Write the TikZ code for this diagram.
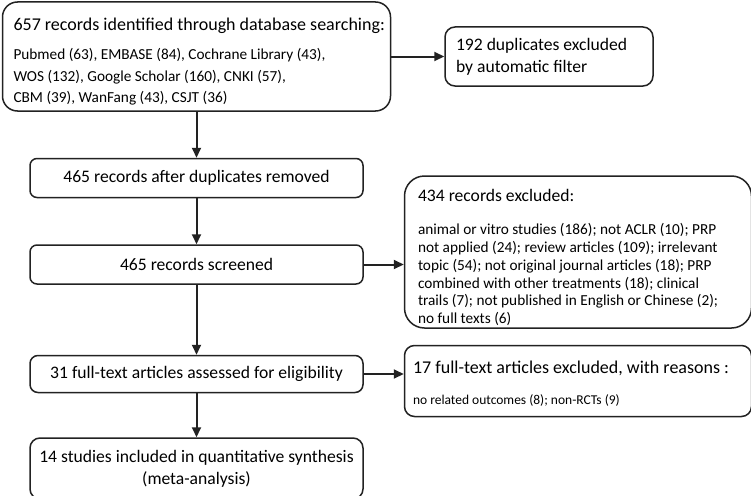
\documentclass[tikz,border=0pt]{standalone}
\usepackage{fontspec}
\setmainfont{Carlito}
\usepackage{xcolor}
\usetikzlibrary{arrows.meta,positioning}
\definecolor{ink}{HTML}{222222}
\newcommand{\bigtxt}{\fontsize{17.6}{22}\selectfont}
\newcommand{\headtxt}{\fontsize{18}{22}\selectfont}
\newcommand{\smalltxt}{\fontsize{15.3}{21.5}\selectfont}
\newcommand{\reasontxt}{\fontsize{15.3}{17.8}\selectfont}
\newcommand{\tinytxt}{\fontsize{13.5}{16}\selectfont}

\begin{document}
\begin{tikzpicture}[
    node distance=46pt and 40pt,
    box/.style={rounded corners=7pt, draw=ink, line width=1.5pt, fill=white,
                minimum width=333pt, minimum height=39pt, align=center,
                inner sep=0pt, font=\bigtxt},
    side/.style={box, rounded corners=11pt, minimum width=347pt, align=flush left},
    line/.style={-{Triangle[length=10pt,width=9pt]}, line width=2pt, draw=ink}
  ]
  \useasboundingbox (0,0) rectangle (751pt,-495pt);

  %%%%%%%%%%%%% Identification %%%%%%%%%%%%%
  \node[box, rounded corners=15pt, minimum width=388pt, minimum height=109pt,
        text width=366pt, align=flush left] (search) at (196.5pt,-56.5pt)
    {\rule{0pt}{23pt}\mbox{\headtxt 657 records identified through database searching:}\\[7.5pt]
     \smalltxt Pubmed (63), EMBASE (84), Cochrane Library (43),\\
     WOS (132), Google Scholar (160), CNKI (57),\\
     CBM (39), WanFang (43), CSJT (36)\par};
  \node[box, rounded corners=10pt, minimum width=208pt, minimum height=59pt,
        text width=186pt, align=flush left, right=53pt of search] (dup)
    {192 duplicates excluded\\by automatic filter\par};

  %%%%%%%%%%%%% Screening %%%%%%%%%%%%%
  \node[box, below=of search] (removed) {465 records after duplicates removed};
  \node[box, below=of removed] (screened) {465 records screened};
  \node[side, rounded corners=20pt, minimum height=152pt, text width=320pt,
        right=of screened, yshift=12.5pt] (excl)
    {\rule{0pt}{23.5pt}434 records excluded:\\[15.2pt]
     \reasontxt animal or vitro studies (186); not ACLR (10); PRP\\
     not applied (24); review articles (109); irrelevant\\
     topic (54); not original journal articles (18); PRP\\
     combined with other treatments (18); clinical\\
     trails (7); not published in English or Chinese (2);\\
     no full texts (6)\par};

  %%%%%%%%%%%%% Eligibility & inclusion %%%%%%%%%%%%%
  \node[box, rounded corners=8pt, minimum height=37pt, below=70pt of screened] (full)
    {31 full-text articles assessed for eligibility};
  \node[side, rounded corners=10pt, minimum height=71pt, text width=330pt,
        right=of full, yshift=-7pt] (fexcl)
    {\headtxt\rule{0pt}{17.7pt}17 full-text articles excluded, with reasons :\\[14.5pt]
     \tinytxt no related outcomes (8); non-RCTs (9)\par};
  \node[box, rounded corners=10pt, minimum height=61pt, below=44pt of full] (incl)
    {14 studies included in quantitative synthesis\\(meta-analysis)};

  %%%%%%%%%%%%% Connections %%%%%%%%%%%%%
  \draw[line] (search) -- (dup);
  \draw[line] (search) -- (removed);
  \draw[line] (removed) -- (screened);
  \draw[line] (screened.east) -- (screened.east -| excl.west);
  \draw[line] (screened) -- (full);
  \draw[line] (full.east) -- (full.east -| fexcl.west);
  \draw[line] (full) -- (incl);

\end{tikzpicture}
\end{document}
